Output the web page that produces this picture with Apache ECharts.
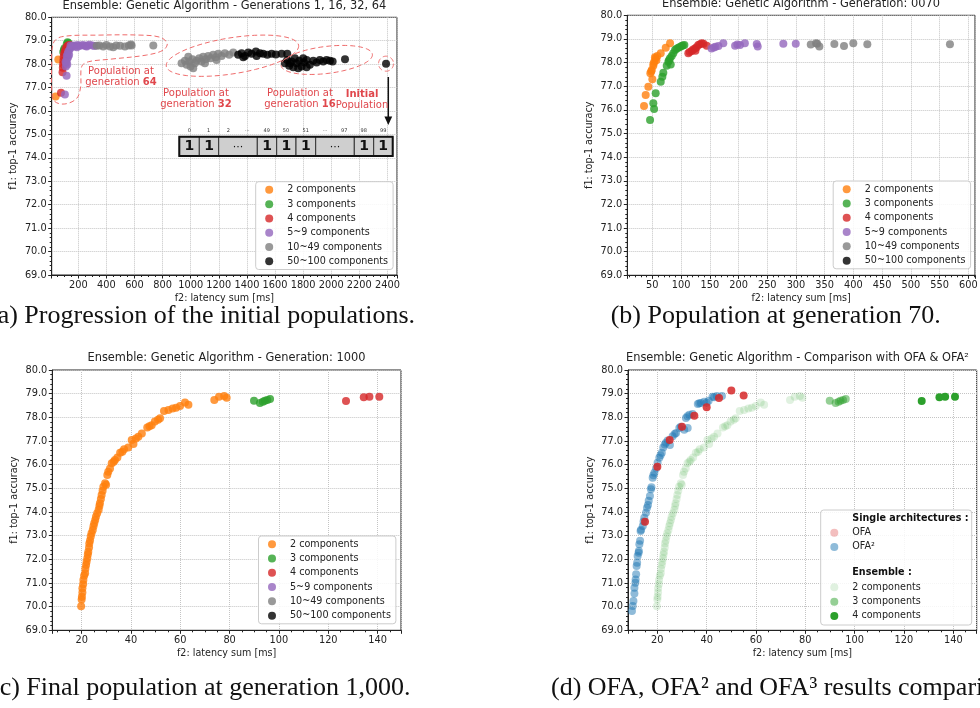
<!DOCTYPE html>
<html>
<head>
<meta charset="utf-8">
<script src="https://cdn.jsdelivr.net/npm/echarts@6/dist/echarts.min.js"></script>
<style>
html, body { margin: 0; padding: 0; background: #fff; }
#chart { width: 980px; height: 708px; }
</style>
</head>
<body>
<div id="chart"></div>
<script>
// ---- data ----
var cats = ['2 components', '3 components', '4 components', '5~9 components', '10~49 components', '50~100 components'];
var catColors = ['#ff7f0e', '#2ca02c', '#d62728', '#9467bd', '#7f7f7f', '#000000'];

// (a) generations 1, 16, 32, 64
var a2 = [[39, 76.62], [58, 78.2]];
var a3 = [[124, 78.93], [118, 78.86], [130, 78.9], [98, 78.6], [93, 78.52], [102, 78.68]];
var a4 = [[77, 76.78], [88, 77.65], [90, 77.85], [92, 78.0], [94, 78.15], [96, 78.3], [99, 78.42], [103, 78.52],
  [108, 78.62], [114, 78.7], [121, 78.76], [128, 78.8], [136, 78.82], [145, 78.8]];
var a5 = [[105, 76.71], [117, 77.51], [112, 77.9], [115, 78.05], [120, 78.2], [118, 78.35], [125, 78.45], [130, 78.55],
  [128, 78.3], [140, 78.65], [150, 78.72], [160, 78.78], [170, 78.8], [180, 78.76], [195, 78.82], [205, 78.78],
  [220, 78.8], [235, 78.82], [250, 78.78], [265, 78.8], [280, 78.83], [300, 78.8], [315, 78.78], [135, 78.4],
  [122, 77.98], [110, 78.1], [145, 78.8], [190, 78.72], [260, 78.75]];
var a10 = [[331, 78.79], [350, 78.8], [378, 78.75], [400, 78.82], [426, 78.75], [449, 78.72], [470, 78.8], [497, 78.79],
  [532, 78.75], [560, 78.8], [575, 78.84], [580, 78.8], [734, 78.8],
  [935, 78.04], [959, 78.15], [971, 77.97], [990, 78.11], [999, 77.9], [1013, 78.21], [1030, 78.04], [1042, 78.15],
  [1061, 78.25], [1077, 78.11], [1089, 78.32], [1108, 78.21], [1125, 78.35], [1142, 78.25], [1160, 78.4], [1179, 78.3],
  [1196, 78.44], [1220, 78.35], [1243, 78.47], [1274, 78.4], [1303, 78.5], [983, 78.32], [1018, 77.83], [1101, 78.04],
  [1184, 78.18]];
var a50 = [[1338, 78.4], [1362, 78.47], [1386, 78.35], [1410, 78.5], [1433, 78.44], [1464, 78.54], [1493, 78.47],
  [1516, 78.44], [1545, 78.4], [1576, 78.44], [1606, 78.41], [1647, 78.44], [1687, 78.44], [1374, 78.3], [1469, 78.35],
  [1670, 78.04], [1687, 78.18], [1701, 77.93], [1718, 78.11], [1730, 77.87], [1753, 78.04], [1772, 78.15], [1789, 77.9],
  [1806, 78.07], [1825, 78.18], [1848, 77.97], [1872, 78.15], [1896, 78.07], [1919, 78.18], [1943, 78.11], [1967, 78.18],
  [1991, 78.15], [2010, 78.11], [2098, 78.21], [1741, 78.25], [1801, 78.25], [1765, 77.83], [1825, 77.87], [1706, 78.04],
  [2390, 78.02]];

// (b) generation 70
var b2 = [[35.5, 76.16], [38.4, 76.63], [43, 76.98], [50, 77.29], [46.5, 77.55], [49, 77.69], [51.7, 77.87], [53.4, 78.04],
  [55.8, 78.18], [58.7, 78.28], [64.6, 78.39], [73.3, 78.63], [80.8, 78.82], [52, 77.95], [57, 78.1], [48, 77.62], [54.5, 78.22]];
var b3 = [[46, 75.57], [53, 76.04], [51.7, 76.28], [55.8, 76.7], [64.6, 77.19], [67.4, 77.4], [69.1, 77.57], [75, 77.87],
  [77.8, 78.04], [80.7, 78.18], [83.7, 78.28], [86.5, 78.39], [89.5, 78.53], [95.2, 78.63], [101, 78.7], [105.7, 78.74],
  [82, 77.92], [79, 78.1], [92, 78.58], [98, 78.66], [103, 78.72]];
var b4 = [[112.6, 78.39], [118.5, 78.49], [124.3, 78.6], [130, 78.74], [136, 78.82], [144.6, 78.71], [115, 78.45],
  [121, 78.55], [127, 78.65], [133, 78.78], [139, 78.8], [125, 78.5]];
var b5 = [[153, 78.6], [160, 78.67], [165, 78.7], [173.5, 78.82], [194, 78.71], [198, 78.76], [202.6, 78.74], [211, 78.82],
  [231.7, 78.79], [233.4, 78.68], [278, 78.8], [299.6, 78.8], [157, 78.64]];
var b10 = [[325.7, 78.76], [335, 78.82], [337, 78.8], [340.7, 78.68], [366.8, 78.79], [383.6, 78.7], [399.8, 78.82],
  [424.2, 78.77], [568, 78.77]];

// (c) generation 1000 (also the ensemble in (d))
var c2 = [[19.8, 70.02], [20.0, 70.3], [20.1, 70.42], [20.3, 70.6], [20.3, 70.78], [20.6, 70.95], [20.7, 71.13], [21.0, 71.3],
  [21.4, 71.41], [21.5, 71.6], [21.8, 71.76], [22.0, 71.9], [22.3, 72.04], [22.5, 72.2], [22.7, 72.32], [23.0, 72.5],
  [23.1, 72.67], [23.4, 72.8], [23.7, 72.96], [24.0, 73.1], [24.5, 73.24], [24.8, 73.4], [25.1, 73.52], [25.5, 73.66],
  [25.8, 73.8], [26.3, 73.95], [26.9, 74.09], [27.2, 74.25], [27.4, 74.37], [27.8, 74.55], [28.1, 74.72], [28.5, 74.9],
  [28.8, 75.07], [29.5, 75.21], [29.9, 75.15], [30.4, 75.56], [30.8, 75.7], [31.5, 75.84], [32.2, 76.06], [33.0, 76.12],
  [33.5, 76.2], [34.5, 76.3], [35.6, 76.5], [36.5, 76.55], [37.2, 76.65], [38.9, 76.73], [40.3, 77.04], [41.0, 76.87],
  [42.0, 77.1], [43.0, 77.18], [44.4, 77.32], [46.6, 77.57], [47.5, 77.62], [48.4, 77.67], [49.7, 77.82], [51.0, 77.9],
  [51.8, 77.96], [53.4, 78.27], [55.2, 78.31], [56.9, 78.37], [58.3, 78.41], [59.9, 78.48], [61.9, 78.63], [63.3, 78.53],
  [73.8, 78.73], [75.7, 78.87], [77.8, 78.9], [78.8, 78.83]];
var c3 = [[89.9, 78.7], [92.3, 78.61], [93.5, 78.66], [94.3, 78.7], [95.3, 78.73], [96.4, 78.77]];
var c4 = [[127.2, 78.69], [134.4, 78.85], [136.7, 78.87], [140.7, 78.87]];

// (d) single architectures
var ofa = [[15, 73.59], [20, 75.91], [25, 77.04], [30, 77.6], [35, 78.07], [40, 78.43], [45, 78.82], [50, 79.13], [55, 78.92]];
var ofa2 = [[9.7, 69.82], [10.0, 70.03], [10.3, 70.24], [10.7, 70.55], [10.7, 70.8], [11.1, 71.01], [11.2, 71.15], [11.4, 71.37],
  [11.6, 71.72], [11.8, 71.85], [12.0, 72.14], [12.4, 72.28], [12.5, 72.35], [12.7, 72.64], [13.0, 72.78], [13.2, 73.2],
  [13.4, 73.25], [14.1, 73.41], [14.4, 73.6], [14.7, 73.76], [15.4, 73.97], [15.8, 74.18], [16.2, 74.3], [16.5, 74.47],
  [17.0, 74.68], [17.4, 74.96], [17.6, 75.05], [18.1, 75.45], [18.4, 75.55], [18.8, 75.66], [19.5, 75.85], [20.1, 76.08],
  [20.8, 76.29], [21.3, 76.4], [21.8, 76.5], [22.4, 76.72], [23.0, 76.85], [23.5, 76.93], [24.2, 77.02], [25.1, 76.83],
  [26.2, 77.2], [27.0, 77.3], [27.6, 77.34], [28.9, 77.55], [29.5, 77.6], [30.9, 77.48], [32.3, 77.55], [31.6, 77.97],
  [32.2, 78.05], [33.0, 78.11], [34.3, 78.14], [36.4, 78.56], [37.0, 78.6], [37.7, 78.61], [39.0, 78.66], [40.0, 78.62],
  [40.8, 78.7], [42.4, 78.87], [43.0, 78.85], [44.1, 78.9], [46.2, 78.9]];

// annotation shapes in panel (a): [x, y] centre, radii in px, tilt in degrees
var ringSpots = [[1297, 78.36, 67, 18, -9], [1968, 78.18, 46, 13.5, -7], [2390, 78.02, 7.5, 7.5, 0]];
var gen64Outline = [[22, 78.89], [82, 79.17], [354, 79.24], [639, 79.24], [781, 79.15], [833, 78.89], [805, 78.6],
  [687, 78.39], [426, 78.21], [271, 78.1], [224, 77.89], [217, 77.04], [189, 76.54], [105, 76.3], [34, 76.4],
  [13, 76.76], [11, 77.89]];

var genoCells = ['1', '1', '\u00b7\u00b7\u00b7', '1', '1', '1', '\u00b7\u00b7\u00b7', '1', '1'];
var genoIdx = ['0', '1', '2', '\u00b7\u00b7\u00b7', '49', '50', '51', '\u00b7\u00b7\u00b7', '97', '98', '99'];

// ---- chart ----
var FONT = '"DejaVu Sans", sans-serif';
var INK = '#222';
var myChart = echarts.init(document.getElementById('chart'));

function xAx(idx, min, max, step, minor) {
  return {
    type: 'value', gridIndex: idx, min: min, max: max, minInterval: step, maxInterval: step,
    name: 'f2: latency sum [ms]', nameLocation: 'middle', nameGap: 18,
    nameTextStyle: { fontFamily: FONT, fontSize: 9.6, color: INK },
    axisLine: { show: true, onZero: false, lineStyle: { color: INK, width: 1 } },
    axisTick: { show: true, length: 3.5, lineStyle: { color: INK } },
    minorTick: { show: true, splitNumber: minor, length: 2, lineStyle: { color: INK } },
    axisLabel: { fontFamily: FONT, fontSize: 9.8, color: INK, margin: 5, showMinLabel: false, showMaxLabel: false,
      formatter: function (v) { return String(v); } },
    splitLine: { show: true, lineStyle: { color: '#c4c4c4', type: 'dotted', width: 1 } },
    minorSplitLine: { show: false }
  };
}
function yAx(idx) {
  return {
    type: 'value', gridIndex: idx, min: 69, max: 80, interval: 1,
    name: 'f1: top-1 accuracy', nameLocation: 'middle', nameGap: 33,
    nameTextStyle: { fontFamily: FONT, fontSize: 9.6, color: INK },
    axisLine: { show: true, onZero: false, lineStyle: { color: INK, width: 1 } },
    axisTick: { show: true, length: 3.5, lineStyle: { color: INK } },
    minorTick: { show: true, splitNumber: 5, length: 2, lineStyle: { color: INK } },
    axisLabel: { fontFamily: FONT, fontSize: 9.8, color: INK, margin: 5,
      formatter: function (v) { return v.toFixed(1); } },
    splitLine: { show: true, lineStyle: { color: '#c4c4c4', type: 'dotted', width: 1 } }
  };
}
function dots(name, data, g, color, opacity, z) {
  return {
    type: 'scatter', name: name, data: data, xAxisIndex: g, yAxisIndex: g,
    symbolSize: 8, z: z || 2, itemStyle: { color: color, opacity: opacity }
  };
}
function catLegend(left, top) {
  return {
    orient: 'vertical', left: left, top: top, itemGap: 0, itemWidth: 8, itemHeight: 8, icon: 'circle',
    padding: [1, 5, 1, 9.5], backgroundColor: 'rgba(255,255,255,0.85)', borderColor: '#cccccc',
    borderWidth: 1, borderRadius: 3, selectedMode: false,
    textStyle: { fontFamily: FONT, fontSize: 9.6, color: INK, lineHeight: 14.3, padding: [0, 0, 0, 9] },
    data: cats.map(function (c, i) { return { name: c, itemStyle: { color: catColors[i], opacity: 0.8 } }; })
  };
}

var series = [];
[a2, a3, a4, a5, a10, a50].forEach(function (d, i) { series.push(dots(cats[i], d, 0, catColors[i], 0.8)); });
[b2, b3, b4, b5, b10].forEach(function (d, i) { series.push(dots(cats[i], d, 1, catColors[i], 0.8)); });
[c2, c3, c4].forEach(function (d, i) { series.push(dots(cats[i], d, 2, catColors[i], 0.8)); });
series.push(dots('ens2', c2, 3, '#2ca02c', 0.15));
series.push(dots('ens3', c3, 3, '#2ca02c', 0.5));
series.push(dots('ens4', c4, 3, '#2ca02c', 1));
series.push(dots('OFA\u00b2', ofa2, 3, '#1f77b4', 0.5, 3));
series.push(dots('OFA', ofa, 3, '#d62728', 0.85, 4));

// dashed rings around the generations in (a)
series.push({
  type: 'custom', xAxisIndex: 0, yAxisIndex: 0, silent: true, z: 5, clip: false,
  data: ringSpots,
  renderItem: function (params, api) {
    var c = api.coord([api.value(0), api.value(1)]);
    var rx = api.value(2), ry = api.value(3), r = api.value(4) * Math.PI / 180;
    var pts = [];
    for (var i = 0; i < 90; i++) {
      var t = i / 90 * 2 * Math.PI, ex = rx * Math.cos(t), ey = ry * Math.sin(t);
      pts.push([c[0] + ex * Math.cos(r) - ey * Math.sin(r), c[1] + ex * Math.sin(r) + ey * Math.cos(r)]);
    }
    return { type: 'polygon', shape: { points: pts }, style: { fill: 'none', stroke: '#ef6b6b', lineWidth: 1, lineDash: [5, 3] } };
  }
});
series.push({
  type: 'custom', xAxisIndex: 0, yAxisIndex: 0, silent: true, z: 5, clip: false,
  data: [[11, 78]],
  renderItem: function (params, api) {
    var pts = gen64Outline.map(function (p) { return api.coord(p); });
    return { type: 'polygon', shape: { points: pts, smooth: 0.35 }, style: { fill: 'none', stroke: '#ef6b6b', lineWidth: 1, lineDash: [5, 3] } };
  }
});

// genome strip + arrow + notes (panel a), captions, legend frame (panel d)
var graphics = [];
var cellX = [179.3, 199.3, 218.7, 257.3, 276.7, 296, 315.7, 354.3, 373.7, 392.7];
genoCells.forEach(function (t, i) {
  graphics.push({ type: 'rect', z: 10, shape: { x: cellX[i], y: 136.7, width: cellX[i + 1] - cellX[i], height: 19.3 },
    style: { fill: '#cfcfcf', stroke: '#333', lineWidth: 1 } });
  graphics.push({ type: 'text', z: 11, x: (cellX[i] + cellX[i + 1]) / 2, y: 146.8,
    style: { text: t, fill: '#111', font: (t === '1' ? 'bold 14px ' : '11px ') + FONT, align: 'center', verticalAlign: 'middle' } });
});
graphics.push({ type: 'rect', z: 12, shape: { x: 179.3, y: 136.7, width: 213.4, height: 19.3 },
  style: { fill: 'none', stroke: '#111', lineWidth: 2 } });
var idxX = [189.3, 208.7, 228.3, 247.3, 266.7, 286, 305.7, 325, 344.3, 363.7, 383.3];
genoIdx.forEach(function (t, i) {
  graphics.push({ type: 'text', z: 11, x: idxX[i], y: 130.7,
    style: { text: t, fill: '#333', font: '5px ' + FONT, align: 'center', verticalAlign: 'middle' } });
});
graphics.push({ type: 'line', z: 12, shape: { x1: 388.3, y1: 77, x2: 388.3, y2: 118 }, style: { stroke: '#111', lineWidth: 1.5 } });
graphics.push({ type: 'polygon', z: 12, shape: { points: [[384.4, 116.5], [392.2, 116.5], [388.3, 125]] }, style: { fill: '#111' } });

var noteStyle = { fill: '#e0474c', font: '10px ' + FONT, align: 'center', verticalAlign: 'middle', lineHeight: 10.5,
  rich: { b: { fontWeight: 'bold', fontSize: 10, fontFamily: FONT, fill: '#e0474c', lineHeight: 10.5 } } };
[['Population at\ngeneration {b|64}', 121, 76.7], ['Population at\ngeneration {b|32}', 196, 99],
 ['Population at\ngeneration {b|16}', 300, 99], ['{b|Initial}\nPopulation', 362, 100]].forEach(function (n) {
  graphics.push({ type: 'text', z: 12, x: n[1], y: n[2], style: Object.assign({ text: n[0] }, noteStyle) });
});

var capFont = '26px "Liberation Serif", "DejaVu Serif", serif';
[['(a) Progression of the initial populations.', -11, 316], ['(b) Population at generation 70.', 610.7, 316],
 ['(c) Final population at generation 1,000.', -9, 688], ['(d) OFA, OFA\u00b2 and OFA\u00b3 results comparison.', 551, 688]]
  .forEach(function (c) {
    graphics.push({ type: 'text', z: 12, x: c[1], y: c[2], style: { text: c[0], fill: '#111', font: capFont, align: 'left', verticalAlign: 'middle' } });
  });

graphics.push({ type: 'rect', z: 3, shape: { x: 820.7, y: 510, width: 151, height: 115, r: 3 },
  style: { fill: 'rgba(255,255,255,0.85)', stroke: '#cccccc', lineWidth: 1 } });
graphics.push({ type: 'text', z: 12, x: 852.3, y: 518.3, style: { text: 'Single architectures :', fill: '#111', font: 'bold 9.6px ' + FONT, align: 'left', verticalAlign: 'middle' } });
graphics.push({ type: 'text', z: 12, x: 852.3, y: 572.3, style: { text: 'Ensemble :', fill: '#111', font: 'bold 9.6px ' + FONT, align: 'left', verticalAlign: 'middle' } });

var ensLabels = { ens2: '2 components', ens3: '3 components', ens4: '4 components' };
function plainLegend(left, top, items) {
  return {
    orient: 'vertical', left: left, top: top, itemGap: 0, itemWidth: 8, itemHeight: 8, icon: 'circle',
    padding: 0, selectedMode: false, z: 6,
    formatter: function (n) { return ensLabels[n] || n; },
    textStyle: { fontFamily: FONT, fontSize: 9.6, color: INK, lineHeight: 14.3, padding: [0, 0, 0, 9] },
    data: items
  };
}

var titleStyle = { fontFamily: FONT, fontSize: 11.4, fontWeight: 'normal', color: INK };
myChart.setOption({
  animation: false,
  backgroundColor: '#fff',
  title: [
    { text: 'Ensemble: Genetic Algorithm - Generations 1, 16, 32, 64', left: 224.4, top: 0.5, textAlign: 'center', padding: 0, textStyle: titleStyle },
    { text: 'Ensemble: Genetic Algorithm - Generation: 0070', left: 801, top: -1, textAlign: 'center', padding: 0, textStyle: titleStyle },
    { text: 'Ensemble: Genetic Algorithm - Generation: 1000', left: 226.5, top: 353, textAlign: 'center', padding: 0, textStyle: titleStyle },
    { text: 'Ensemble: Genetic Algorithm - Comparison with OFA & OFA\u00b2', left: 626, top: 353, textAlign: 'left', padding: 0, textStyle: titleStyle }
  ],
  grid: [
    { left: 51.7, top: 17.3, width: 345.3, height: 257.7 },
    { left: 627.3, top: 15.3, width: 347.7, height: 260 },
    { left: 52.3, top: 370, width: 348.7, height: 260.3 },
    { left: 628, top: 370, width: 348.7, height: 260.3 }
  ].map(function (g) {
    return Object.assign({ show: true, borderColor: INK, borderWidth: 1, backgroundColor: 'transparent', containLabel: false, outerBoundsMode: 'none' }, g);
  }),
  xAxis: [xAx(0, 11, 2468, 200, 4), xAx(1, 6.4, 611.6, 50, 5), xAx(2, 8.1, 149.5, 20, 4), xAx(3, 8.1, 149.5, 20, 4)],
  yAxis: [yAx(0), yAx(1), yAx(2), yAx(3)],
  legend: [
    catLegend(255.7, 181.7),
    catLegend(833.2, 181),
    catLegend(258.5, 536),
    plainLegend(830.3, 525.5, [
      { name: 'OFA', itemStyle: { color: '#d62728', opacity: 0.3 } },
      { name: 'OFA\u00b2', itemStyle: { color: '#1f77b4', opacity: 0.5 } }
    ]),
    plainLegend(830.3, 580.2, [
      { name: 'ens2', itemStyle: { color: '#2ca02c', opacity: 0.15 } },
      { name: 'ens3', itemStyle: { color: '#2ca02c', opacity: 0.5 } },
      { name: 'ens4', itemStyle: { color: '#2ca02c', opacity: 1 } }
    ])
  ],
  graphic: graphics,
  series: series
});
</script>
</body>
</html>
